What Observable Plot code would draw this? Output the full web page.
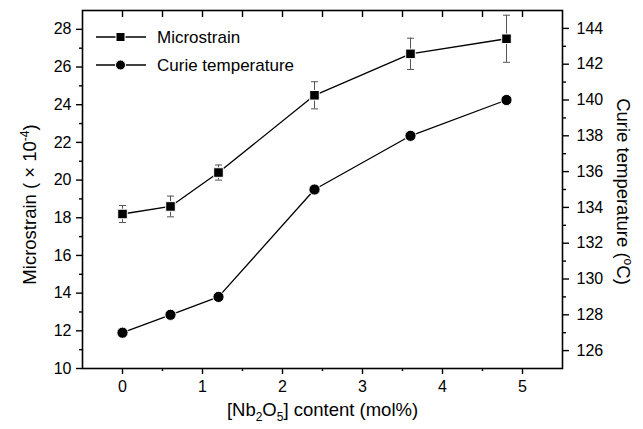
<!DOCTYPE html>
<html>
<head>
<meta charset="utf-8">
<script src="https://cdn.jsdelivr.net/npm/d3@7"></script>
<script src="https://cdn.jsdelivr.net/npm/@observablehq/plot@0.6"></script>
<style>
  html, body { margin: 0; padding: 0; background: white; }
  #wrap { position: relative; width: 643px; height: 429px; font-family: "Liberation Sans", Arial, sans-serif; }
  #legend { position: absolute; left: 0; top: 0; pointer-events: none; }
</style>
</head>
<body>
<div id="wrap"></div>
<script>
// ---- data ----
const nb2o5 = [0, 0.6, 1.2, 2.4, 3.6, 4.8];
const microstrain = [18.2, 18.6, 20.4, 24.5, 26.7, 27.5];
const microstrainErr = [0.45, 0.55, 0.4, 0.72, 0.83, 1.25];
const curieTemp = [127, 128, 129, 135, 138, 140];

const xMajorTicks = [0, 1, 2, 3, 4, 5];
const xMinorTicks = [0.5, 1.5, 2.5, 3.5, 4.5];
const xTopTicks = [0, 0.5, 1, 1.5, 2, 2.5, 3, 3.5, 4, 4.5, 5];
const leftMajorTicks = [10, 12, 14, 16, 18, 20, 22, 24, 26, 28];
const leftMinorTicks = [11, 13, 15, 17, 19, 21, 23, 25, 27];
const rightMajorTicks = [126, 128, 130, 132, 134, 136, 138, 140, 142, 144];
const rightMinorTicks = [127, 129, 131, 133, 135, 137, 139, 141, 143];

const legendLabels = ["Microstrain", "Curie temperature"];

// ---- scales ----
const leftDomain = [10, 29];
const rightDomain = [125, 145];
const toLeft = t => leftDomain[0] + (t - rightDomain[0]) * (leftDomain[1] - leftDomain[0]) / (rightDomain[1] - rightDomain[0]);
const fromLeft = v => rightDomain[0] + (v - leftDomain[0]) * (rightDomain[1] - rightDomain[0]) / (leftDomain[1] - leftDomain[0]);

const rows = nb2o5.map((x, i) => ({x, m: microstrain[i], e: microstrainErr[i], t: curieTemp[i]}));

const capSymbol = {draw(ctx) { ctx.moveTo(-3.5, 0); ctx.lineTo(3.5, 0); }};
const blank = () => "";

const chart = Plot.plot({
  width: 643,
  height: 429,
  marginLeft: 82,
  marginRight: 81,
  marginTop: 10,
  marginBottom: 61,
  style: {fontFamily: "'Liberation Sans', Arial, sans-serif", fontSize: "16px", color: "black", background: "white"},
  x: {domain: [-0.5, 5.5]},
  y: {domain: leftDomain},
  marks: [
    // axes
    Plot.axisX({ticks: xMajorTicks, tickSize: 6, tickPadding: 6, tickFormat: d => String(d), label: null, strokeWidth: 1.4}),
    Plot.axisX({ticks: xMinorTicks, tickSize: 3, tickFormat: blank, label: null, strokeWidth: 1.4}),
    Plot.axisX({anchor: "top", ticks: xTopTicks, tickSize: -6, tickFormat: blank, label: null, strokeWidth: 1.4}),
    Plot.axisY({ticks: leftMajorTicks, tickSize: 6, tickPadding: 5, tickFormat: d => String(d), label: null, strokeWidth: 1.4}),
    Plot.axisY({ticks: leftMinorTicks, tickSize: 3, tickFormat: blank, label: null, strokeWidth: 1.4}),
    Plot.axisY({anchor: "right", ticks: rightMajorTicks.map(toLeft), tickSize: 6, tickPadding: 8, tickFormat: d => String(Math.round(fromLeft(d))), label: null, strokeWidth: 1.4}),
    Plot.axisY({anchor: "right", ticks: rightMinorTicks.map(toLeft), tickSize: 3, tickFormat: blank, label: null, strokeWidth: 1.4}),
    Plot.frame({stroke: "black", strokeWidth: 1.6}),
    // axis titles
    Plot.text(["[Nb2O5] content (mol%)"], {frameAnchor: "bottom", dy: 42, text: d => d, fontSize: 18.5, lineAnchor: "middle", textAnchor: "middle"}),
    Plot.text(["Microstrain ( × 10-4)"], {frameAnchor: "left", dx: -52, dy: 15, rotate: -90, text: d => d, fontSize: 18.5, textAnchor: "middle"}),
    Plot.text(["Curie temperature (oC)"], {frameAnchor: "right", dx: 60, dy: 2, rotate: 90, text: d => d, fontSize: 18.5, textAnchor: "middle"}),
    // error bars
    Plot.ruleX(rows, {x: "x", y1: d => d.m - d.e, y2: d => d.m + d.e, stroke: "#555", strokeWidth: 1}),
    Plot.dot(rows, {x: "x", y: d => d.m - d.e, symbol: capSymbol, stroke: "#555", strokeWidth: 1, r: 3}),
    Plot.dot(rows, {x: "x", y: d => d.m + d.e, symbol: capSymbol, stroke: "#555", strokeWidth: 1, r: 3}),
    // lines
    Plot.line(rows, {x: "x", y: "m", stroke: "black", strokeWidth: 1.3}),
    Plot.line(rows, {x: "x", y: d => toLeft(d.t), stroke: "black", strokeWidth: 1.3}),
    // markers
    Plot.dot(rows, {x: "x", y: "m", symbol: "square", r: 5.4, fill: "black", stroke: "white", strokeWidth: 1}),
    Plot.dot(rows, {x: "x", y: d => toLeft(d.t), symbol: "circle", r: 5.6, fill: "black", stroke: "white", strokeWidth: 1})
  ]
});

// rich text for titles (sub/superscripts)
chart.querySelectorAll("text").forEach(el => {
  const s = el.textContent;
  if (s === "[Nb2O5] content (mol%)") {
    el.innerHTML = '[Nb<tspan dy="5" font-size="12">2</tspan><tspan dy="-5">O</tspan><tspan dy="5" font-size="12">5</tspan><tspan dy="-5">] content (mol%)</tspan>';
  } else if (s === "Microstrain ( × 10-4)") {
    el.innerHTML = 'Microstrain ( × 10<tspan dy="-7" font-size="12">-4</tspan><tspan dy="7">)</tspan>';
  } else if (s === "Curie temperature (oC)") {
    el.innerHTML = 'Curie temperature (<tspan dy="-7" font-size="12">o</tspan><tspan dy="7">C)</tspan>';
  }
});

const wrap = document.getElementById("wrap");
wrap.appendChild(chart);

// legend (overlay)
const ns = "http://www.w3.org/2000/svg";
const leg = document.createElementNS(ns, "svg");
leg.setAttribute("id", "legend");
leg.setAttribute("width", 643);
leg.setAttribute("height", 429);
const legendRows = [{label: legendLabels[0], shape: "square", y: 37}, {label: legendLabels[1], shape: "circle", y: 65}];
legendRows.forEach(r => {
  const ln = document.createElementNS(ns, "line");
  ln.setAttribute("x1", 96); ln.setAttribute("x2", 146);
  ln.setAttribute("y1", r.y); ln.setAttribute("y2", r.y);
  ln.setAttribute("stroke", "black"); ln.setAttribute("stroke-width", 1.3);
  leg.appendChild(ln);
  let m;
  if (r.shape === "square") {
    m = document.createElementNS(ns, "rect");
    m.setAttribute("x", 116); m.setAttribute("y", r.y - 4.5);
    m.setAttribute("width", 9); m.setAttribute("height", 9);
  } else {
    m = document.createElementNS(ns, "circle");
    m.setAttribute("cx", 120.5); m.setAttribute("cy", r.y); m.setAttribute("r", 5);
  }
  m.setAttribute("fill", "black"); m.setAttribute("stroke", "white"); m.setAttribute("stroke-width", 1);
  leg.appendChild(m);
  const tx = document.createElementNS(ns, "text");
  tx.setAttribute("x", 157); tx.setAttribute("y", r.y);
  tx.setAttribute("dy", "0.35em");
  tx.setAttribute("font-size", "17");
  tx.setAttribute("font-family", "'Liberation Sans', Arial, sans-serif");
  tx.textContent = r.label;
  leg.appendChild(tx);
});
wrap.appendChild(leg);
</script>
</body>
</html>
